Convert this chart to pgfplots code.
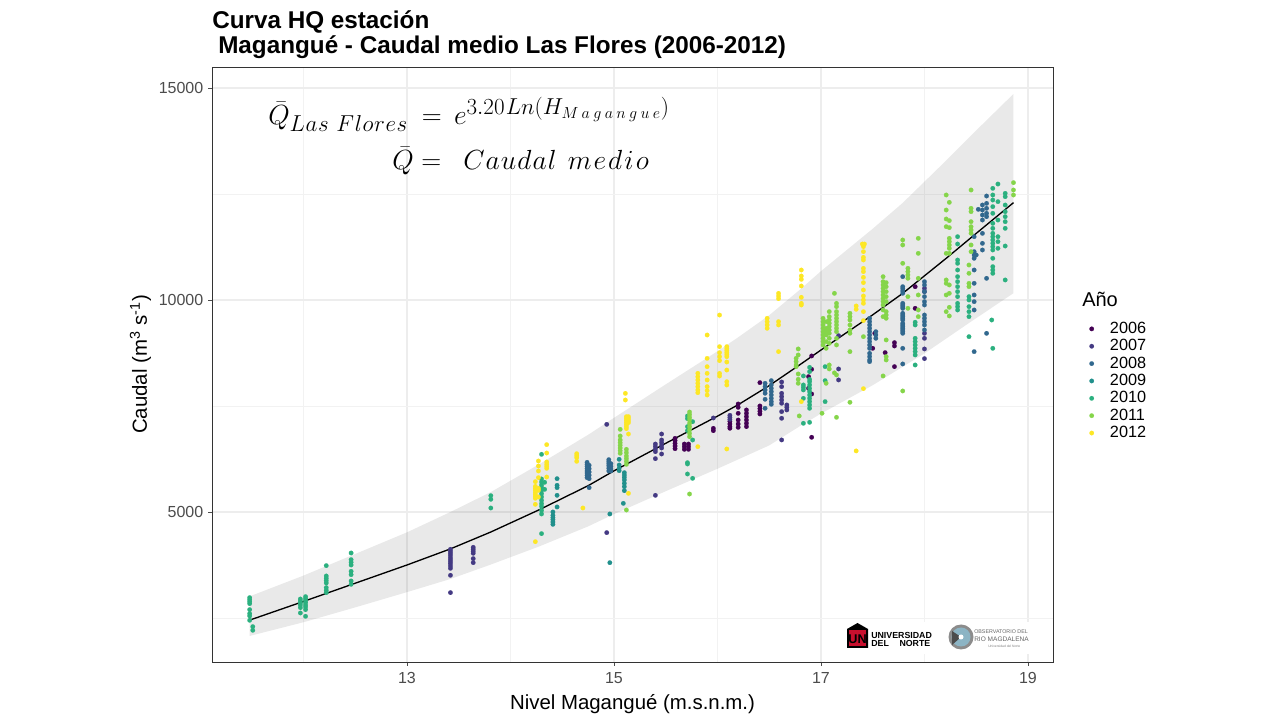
\documentclass[border=0pt]{standalone}
\usepackage{pgfplots}
\pgfplotsset{compat=1.18}
\usepackage{fontspec}
\setmainfont{Liberation Sans}
\DeclareMathSizes{22}{22}{17.5}{13}
\definecolor{y2006}{HTML}{440154}
\definecolor{y2007}{HTML}{443A83}
\definecolor{y2008}{HTML}{31688E}
\definecolor{y2009}{HTML}{21908C}
\definecolor{y2010}{HTML}{2BB07F}
\definecolor{y2011}{HTML}{85D54A}
\definecolor{y2012}{HTML}{FDE725}
\definecolor{unired}{HTML}{C8102E}
\pgfplotsset{
  pts/.style={only marks, mark=*, mark size=1.7pt, color=#1, mark options={line width=0.1pt}},
}
\begin{document}
\begin{tikzpicture}[x=0.75pt,y=0.75pt]
\path[use as bounding box] (0,0) rectangle (1280,720);
\begin{axis}[
    at={(159pt,43.5pt)}, anchor=south west,
    scale only axis, width=630.75pt, height=446.25pt,
    xmin=11.116, xmax=19.242,
    ymin=1462, ymax=15495,
    xtick={13,15,17,19},
    ytick={5000,10000,15000},
    scaled ticks=false,
    minor xtick={12,14,16,18},
    minor ytick={2500,7500,12500},
    minor tick length=0pt,
    major tick length=3pt,
    tick align=outside,
    xtick pos=bottom, ytick pos=left,
    xmajorgrids, ymajorgrids, xminorgrids, yminorgrids,
    major grid style={color=black!7, line width=0.9pt},
    minor grid style={color=black!5, line width=0.6pt},
    axis line style={color=black!80, line width=0.6pt},
    tick style={color=black!70, line width=0.6pt},
    tick label style={font=\fontsize{12}{14}\selectfont, color=black!70},
    xticklabel style={yshift=-1pt},
    /pgf/number format/assume math mode=true,
    /pgf/number format/1000 sep={},
    xlabel={Nivel Magangué (m.s.n.m.)},
    ylabel={Caudal (m\textsuperscript{3} s\textsuperscript{-1})},
    label style={font=\fontsize{15.3}{18}\selectfont},
    xlabel style={yshift=-1.5pt},
    ylabel style={yshift=-1pt},
    legend style={at={(1.043,0.576)}, anchor=north west, draw=none, fill=none,
      font=\fontsize{12.2}{13}\selectfont, row sep=-1pt,
      legend cell align=left, inner sep=0pt,
      /tikz/every odd column/.append style={column sep=10pt}},
]
% banda
\addplot[forget plot, draw=none, fill=black, fill opacity=0.085] coordinates {
  (11.48,3010)(12,3500)(12.5,4010)(13,4520)(13.42,5000)(13.81,5470)(14.28,6130)
  (14.75,6820)(15,7220)(15.5,8010)(16,8790)(16.2,9120)(16.5,9640)(16.8,10250)
  (17,10680)(17.5,11680)(17.79,12290)(18,12790)(18.21,13290)(18.45,13880)(18.86,14860)
  (18.86,10160)(18.45,9490)(18,8740)(17.5,7990)(17,7320)(16.8,7030)(16.5,6570)
  (16.2,6240)(16,6020)(15.5,5490)(15,4950)(14.75,4660)(14.28,4190)(13.81,3760)
  (13.42,3420)(13,3110)(12.5,2750)(12,2400)(11.48,2076)
} -- cycle;

% 2006
\addplot[pts=y2006] coordinates {
  (15.59,6737)(15.59,6682)(15.59,6619)(15.59,6556)(15.59,6493)
  (15.68,6603)(15.68,6541)(15.68,6478)(15.72,6603)(15.72,6541)(15.72,6478)
  (15.96,6973)(15.96,6918)
  (16.12,7138)(16.12,7075)(16.12,7012)(16.12,6974)
  (16.20,7547)(16.20,7468)(16.20,7327)(16.20,7169)(16.20,7075)(16.20,6996)
  (16.28,7406)(16.28,7328)(16.28,7249)(16.28,7170)(16.28,7092)(16.28,7013)
  (16.41,8051)(16.41,7500)(16.41,7438)(16.41,7375)(16.41,7312)
  (16.91,8680)(16.91,8365)(16.91,7783)(16.91,6762)(16.88,8192)(16.88,7917)
  (17.50,8860)(17.52,9214)(17.71,8994)(17.71,8915)(17.71,8428)(17.62,8758)
  (17.91,10314)(17.91,9803)
};
% 2007
\addplot[pts=y2007] coordinates {
  (13.42,4120)(13.42,4073)(13.42,4026)(13.42,3978)(13.42,3923)(13.42,3876)
  (13.42,3829)(13.42,3782)(13.42,3727)(13.42,3672)(13.42,3507)(13.42,3098)
  (13.64,4167)(13.64,4120)(13.64,4073)(13.64,4026)(13.64,3900)(13.64,3805)
  (14.93,7067)(14.93,4513)
  (15.40,6603)(15.40,6541)(15.40,6478)(15.40,6423)(15.40,6258)(15.40,5393)
  (15.46,6839)(15.46,6698)(15.46,6635)(15.46,6572)(15.46,6509)(15.46,6368)
  (15.96,7217)(16.12,7280)(16.12,7232)(16.12,7185)
  (16.62,8066)(16.62,7956)(16.62,7799)(16.62,7721)(16.62,7642)(16.62,7564)
  (16.62,7367)(16.62,7210)(16.62,6699)
  (16.67,7524)(16.67,7469)(16.67,7406)
  (17.17,9159)(17.17,8373)(17.17,8114)
  (18.00,10275)(18.00,10197)(18.00,9214)(18.00,9096)(18.00,8845)(18.00,8617)
};
% 2008
\addplot[pts=y2008] coordinates {
  (14.74,6171)(14.74,6124)(14.74,6077)(14.74,6022)(14.74,5967)(14.74,5920)(14.74,5865)(14.74,5810)
  (14.76,6100)(14.76,6022)(14.76,5943)(14.76,5865)(14.76,5786)(14.76,5574)
  (14.95,6234)(14.95,6187)(14.95,6140)(14.95,6092)(14.95,6030)(14.95,5967)
  (14.97,6140)(14.97,6077)(14.97,6014)(14.97,5967)
  (16.46,8035)(16.46,7956)(16.46,7878)(16.46,7800)(16.46,7658)(16.46,7446)
  (16.52,8098)(16.52,7996)(16.52,7917)(16.52,7839)(16.52,7760)(16.52,7681)(16.52,7603)(16.52,7540)
  (17.47,9568)(17.47,9489)(17.47,9411)(17.47,9332)(17.47,9253)(17.47,9175)(17.47,9096)
  (17.47,9018)(17.47,8939)(17.47,8860)(17.47,8742)(17.47,8664)(17.47,8585)(17.47,8546)
  (17.53,9253)(17.53,9175)(17.53,9096)
  (17.79,10550)(17.79,10314)(17.79,10267)(17.79,10212)(17.79,10157)(17.79,9921)(17.79,9882)
  (17.79,9843)(17.79,9803)(17.79,9686)(17.79,9646)(17.79,9607)(17.79,9568)(17.79,9528)
  (17.79,9450)(17.79,9411)(17.79,9371)(17.79,9332)(17.79,9293)(17.79,9253)(17.79,9214)
  (17.79,8860)(17.79,8491)
  (18.00,10432)(18.00,10354)(18.00,10197)(18.00,10079)(18.00,9961)(18.00,9882)
  (18.00,9646)(18.00,9568)(18.00,9489)(18.00,9411)(18.00,9293)
  (18.48,11493)(18.48,11140)(18.48,11061)(18.48,10983)(18.48,10707)(18.48,10393)
  (18.48,10118)(18.48,9961)(18.48,9764)(18.48,8782)(18.50,11061)
  (18.56,12240)(18.56,12122)(18.56,12004)(18.56,11886)(18.56,11572)(18.56,11336)(18.56,11179)
  (18.52,12138)
  (18.60,12452)(18.60,12279)(18.60,12162)(18.60,12044)(18.60,11965)(18.60,10511)(18.60,9214)
};
% 2009
\addplot[pts=y2009] coordinates {
  (14.45,5786)(14.45,5629)(14.45,5574)(14.45,5393)(14.45,5118)
  (14.41,5000)(14.41,4921)(14.41,4866)(14.41,4819)(14.41,4764)(14.41,4709)
  (14.96,4953)(14.96,3805)
  (15.05,6242)(15.05,6108)(15.05,6030)(15.05,5975)
  (15.10,5927)(15.10,5872)(15.10,5817)(15.10,5755)(15.10,5676)(15.10,5597)(15.10,5503)
  (15.09,5204)
};
% 2010
\addplot[pts=y2010] coordinates {
  (11.48,2980)(11.48,2933)(11.48,2886)(11.48,2838)(11.48,2697)(11.48,2603)(11.48,2548)(11.48,2446)
  (11.51,2296)(11.51,2210)
  (11.97,2948)(11.97,2901)(11.97,2854)(11.97,2807)(11.97,2744)(11.97,2618)
  (12.02,3004)(12.02,2956)(12.02,2909)(12.02,2862)(12.02,2807)(12.02,2760)(12.02,2697)(12.02,2540)
  (12.22,3735)(12.22,3491)(12.22,3436)(12.22,3381)(12.22,3325)(12.22,3216)(12.22,3153)(12.22,3098)
  (12.46,4033)(12.46,3876)(12.46,3813)(12.46,3750)(12.46,3601)(12.46,3522)(12.46,3373)(12.46,3294)
  (13.81,5385)(13.81,5299)(13.81,5094)
  (14.30,6360)(14.30,5778)(14.30,5707)(14.30,5636)(14.30,5574)(14.30,5511)(14.30,5432)
  (14.30,5354)(14.30,5275)(14.30,5197)(14.30,5134)(14.30,5039)(14.30,4953)(14.30,4489)
  (14.33,5700)(14.33,5534)
  (15.71,7264)(15.71,7201)(15.71,7012)(15.71,6918)(15.71,6163)(15.71,6132)(15.71,5896)
  (15.76,7130)(15.76,6698)(15.76,5794)
  (16.83,8208)(16.83,7996)(16.83,7941)(16.83,7878)(16.83,7681)(16.83,7092)
  (16.89,8412)(16.89,8310)(16.89,8129)(16.89,8074)(16.89,7996)(16.89,7917)(16.89,7839)
  (16.89,7760)(16.89,7681)(16.89,7603)(16.89,7524)(16.89,7446)(16.89,7115)
  (17.04,8428)(17.04,8098)(17.04,7603)
  (17.91,9475)(17.91,9411)(17.91,9096)(17.91,9018)(17.91,8939)(17.91,8860)(17.91,8782)(17.91,8703)(17.91,8467)
  (18.32,11493)(18.32,11320)(18.32,10943)(18.32,10865)(18.32,10707)(18.32,10550)(18.32,10432)
  (18.32,10314)(18.32,10197)(18.32,10079)(18.32,9921)(18.32,9843)(18.32,9764)
  (18.43,10079)(18.43,10000)(18.43,9843)(18.43,9725)(18.43,9607)(18.43,9135)
  (18.66,12633)(18.66,12476)(18.66,12358)(18.66,12201)(18.66,12044)(18.66,11808)(18.66,11690)
  (18.66,11572)(18.66,11493)(18.66,11415)(18.66,11336)(18.66,11258)(18.66,11179)(18.66,10983)
  (18.66,10786)(18.66,10707)(18.66,10629)(18.65,9528)(18.66,8860)
  (18.71,12735)(18.71,12319)(18.71,11886)(18.71,11493)(18.71,11376)(18.71,11218)
  (18.78,12515)(18.78,12437)(18.78,12240)(18.78,12083)(18.78,11965)(18.78,11847)(18.78,11690)(18.78,11273)(18.78,10472)
};
% 2011
\addplot[pts=y2011] coordinates {
  (15.06,6949)(15.06,6792)(15.06,6698)(15.06,6635)(15.06,6572)(15.06,6509)(15.06,6446)(15.06,6383)
  (15.12,6478)(15.12,6399)(15.12,6320)(15.12,6258)(15.12,6195)(15.12,6124)(15.12,5047)
  (15.73,7358)(15.73,7295)(15.73,7232)(15.73,7170)(15.73,7091)(15.73,7012)(15.73,6934)(15.73,6855)(15.73,6776)(15.73,5424)
  (16.76,8624)(16.76,8546)(16.76,8467)(16.76,8428)(16.78,8845)(16.78,8703)(16.78,8255)(16.78,8129)(16.78,8035)
  (16.79,7265)
  (17.02,9568)(17.02,9489)(17.02,9411)(17.02,9332)(17.02,9253)(17.02,9175)(17.02,9096)(17.02,9018)(17.02,8939)
  (17.05,9489)(17.05,9332)(17.05,9253)(17.05,9175)(17.05,9018)(17.05,8860)(17.05,8035)
  (17.08,9725)(17.08,9607)(17.08,9528)(17.08,9450)(17.08,9371)(17.08,9293)(17.08,9214)(17.08,9096)(17.08,8978)
  (17.08,8467)(17.08,8373)
  (17.13,10157)(17.13,8281)(17.01,7328)
  (17.15,9921)(17.15,9843)(17.15,9725)(17.15,9646)(17.15,9568)(17.15,9489)(17.15,9411)(17.15,9332)(17.15,9253)
  (17.15,9096)(17.15,8939)(17.15,8232)(17.15,7233)
  (17.28,9686)(17.28,9607)(17.28,9528)(17.28,9411)(17.28,9293)(17.28,9214)(17.28,8782)(17.28,7587)
  (17.41,9135)
  (17.60,10550)(17.60,10432)(17.60,10354)(17.60,10275)(17.60,10197)(17.60,10118)(17.60,10039)
  (17.60,9961)(17.60,9882)(17.60,9764)(17.60,9607)(17.60,8208)
  (17.63,10409)(17.63,10314)(17.63,10197)(17.63,10079)(17.63,9961)(17.63,9725)(17.63,9646)(17.63,9568)
  (17.63,9057)(17.63,8664)(17.63,8585)
  (17.79,11415)(17.79,11297)(17.79,10865)(17.79,7854)
  (17.84,10747)(17.84,10668)(17.84,10590)(17.84,10511)(17.84,10079)(17.84,9803)
  (17.94,11454)(17.94,11100)(17.94,10511)(17.94,10118)(17.94,9764)(17.94,9607)
  (18.21,12476)(18.21,12122)(18.21,11910)(18.21,11729)(18.21,11100)(18.21,10472)(18.21,10393)(18.21,10118)(18.21,9725)
  (18.24,12303)(18.24,11871)(18.24,11706)(18.24,11454)(18.24,11376)(18.24,11297)(18.24,11218)(18.24,11100)
  (18.24,10354)(18.24,10157)(18.24,9827)(18.24,9623)
  (18.43,10825)(18.43,10629)(18.43,10393)(18.43,10314)
  (18.45,12594)(18.45,12162)(18.45,12083)(18.45,11847)(18.45,11729)(18.45,11651)(18.45,11572)(18.45,11297)(18.45,11140)
  (18.86,12767)(18.86,12594)(18.86,12476)
};
% 2012
\addplot[pts=y2012] coordinates {
  (14.24,5715)(14.24,5605)(14.24,5558)(14.24,5511)(14.24,5464)(14.24,5417)(14.24,5370)(14.24,5323)(14.24,5181)(14.24,4300)
  (14.27,6203)(14.27,6085)(14.27,5967)(14.27,5810)(14.27,5558)(14.27,5511)(14.27,5354)
  (14.35,6588)(14.35,6391)(14.35,6179)(14.35,6124)(14.35,6077)(14.35,6030)(14.35,5825)
  (14.64,6375)(14.64,6328)(14.64,6281)(14.64,6195)
  (14.70,5094)
  (15.11,7798)(15.11,7641)
  (15.12,7248)(15.12,7201)(15.12,7154)(15.12,7107)(15.12,7060)(15.12,7012)(15.12,6965)
  (15.14,7248)(15.14,7201)(15.14,7154)(15.14,7107)(15.14,6839)(15.14,5440)
  (15.81,8270)(15.81,8191)(15.81,8113)(15.81,8034)(15.81,7956)(15.81,7877)(15.81,7814)(15.81,6541)
  (15.90,9174)(15.90,8623)(15.90,8427)(15.90,8270)(15.90,8113)(15.90,7956)(15.90,7861)(15.90,7759)
  (16.02,9645)(16.02,8899)(16.02,8757)(16.02,8663)(16.02,8569)(16.02,8270)(16.02,8207)
  (16.09,8899)(16.09,8851)(16.09,8804)(16.09,8757)(16.09,8710)(16.09,8663)(16.09,8537)(16.09,8348)(16.09,8073)(16.09,7995)(16.09,6486)
  (16.48,9568)(16.48,9489)(16.48,9411)(16.48,9332)
  (16.59,10157)(16.59,10094)(16.59,10031)(16.59,9489)(16.59,9411)(16.59,8782)
  (16.81,10707)(16.81,10566)(16.81,10487)(16.81,10330)(16.81,10063)(16.81,9921)(16.81,9882)(16.81,7603)
  (17.34,9859)(17.34,9780)(17.34,6440)
  (17.40,11320)(17.42,11320)(17.41,11258)(17.41,11140)(17.41,11006)(17.41,10943)(17.41,10747)(17.41,10668)
  (17.41,10534)(17.41,10409)(17.41,10236)(17.41,10094)(17.41,10000)(17.41,9921)(17.41,9725)(17.41,9513)(17.41,7909)
};
% curva media
\addplot[forget plot, black, line width=1pt] coordinates {
  (11.48,2450)(12,2890)(12.5,3320)(13,3750)(13.42,4130)(13.81,4528)(14.28,5055)
  (14.75,5620)(15,5970)(15.5,6620)(16,7260)(16.2,7530)(16.5,7980)(16.8,8480)
  (17,8820)(17.5,9650)(17.79,10157)(18,10570)(18.21,10983)(18.45,11470)(18.86,12295)
};
\legend{2006,2007,2008,2009,2010,2011,2012}
\end{axis}

% titulo
\node[anchor=base west, font=\bfseries\fontsize{18.2}{20}\selectfont, inner sep=0pt] at (212,720-29) {Curva HQ estación};
\node[anchor=base west, font=\bfseries\fontsize{18.2}{20}\selectfont, inner sep=0pt] at (218,720-54) {Magangué - Caudal medio Las Flores (2006-2012)};

% ecuaciones
\node[anchor=base west, inner sep=0pt, font=\fontsize{22}{26}\selectfont] at (268,720-125)
  {$\bar{Q}_{L\mkern.5mu a\mkern.5mu s\mkern6mu F\mkern.5mu l\mkern.5mu o\mkern.5mu r\mkern.5mu e\mkern.5mu s}\mkern4mu = \mkern3mu e^{3.20\mkern1mu Ln(H_{M\mkern3.8mu a\mkern3.8mu g\mkern3.8mu a\mkern3.8mu n\mkern3.8mu g\mkern3.8mu u\mkern3.8mu e})}$};
\node[anchor=base west, inner sep=0pt, font=\fontsize{22}{26}\selectfont] at (392,720-170)
  {$\bar{Q} =\ \mkern4mu C\mkern.7mu a\mkern.7mu u\mkern.7mu d\mkern.7mu a\mkern.7mu l\ \mkern2mu m\mkern1.4mu e\mkern1.4mu d\mkern1.4mu i\mkern1.4mu o$};

% titulo de la leyenda
\node[anchor=base west, inner sep=0pt, font=\fontsize{15}{18}\selectfont] at (1082,720-307) {Año};

% logos
\fill[white] (845,720-622) rectangle (1030,720-654);
\fill[black] (847,720-629) -- (857.5,720-623) -- (868,720-629) -- (868,720-648) -- (847,720-648) -- cycle;
\fill[unired] (849,720-630) rectangle (866,720-646);
\node[inner sep=0pt, font=\bfseries\fontsize{9.5}{10}\selectfont, black] at (857.5,720-639) {UN};
\node[anchor=base west, inner sep=0pt, font=\bfseries\fontsize{6.6}{7}\selectfont] at (871,720-638.5) {UNIVERSIDAD};
\node[anchor=base west, inner sep=0pt, font=\bfseries\fontsize{6.6}{7}\selectfont] at (871,720-647) {DEL\hspace{8pt}NORTE};
\fill[black!45] (961,720-637) circle (12.5);
\fill[cyan!55!black!55] (961,720-637) circle (9.5);
\fill[black!70] (961,720-637) -- (952,720-631) -- (952,720-645) -- cycle;
\fill[white] (961,720-637) circle (2.5);
\node[anchor=base west, inner sep=0pt, font=\fontsize{4}{5}\selectfont, black!60] at (974,720-634) {OBSERVATORIO DEL};
\node[anchor=base west, inner sep=0pt, font=\fontsize{4.9}{6}\selectfont, black!60] at (974,720-642) {RIO MAGDALENA};
\node[anchor=base west, inner sep=0pt, font=\fontsize{2.5}{3}\selectfont, black!50] at (988,720-648) {Universidad del Norte};
\end{tikzpicture}
\end{document}
